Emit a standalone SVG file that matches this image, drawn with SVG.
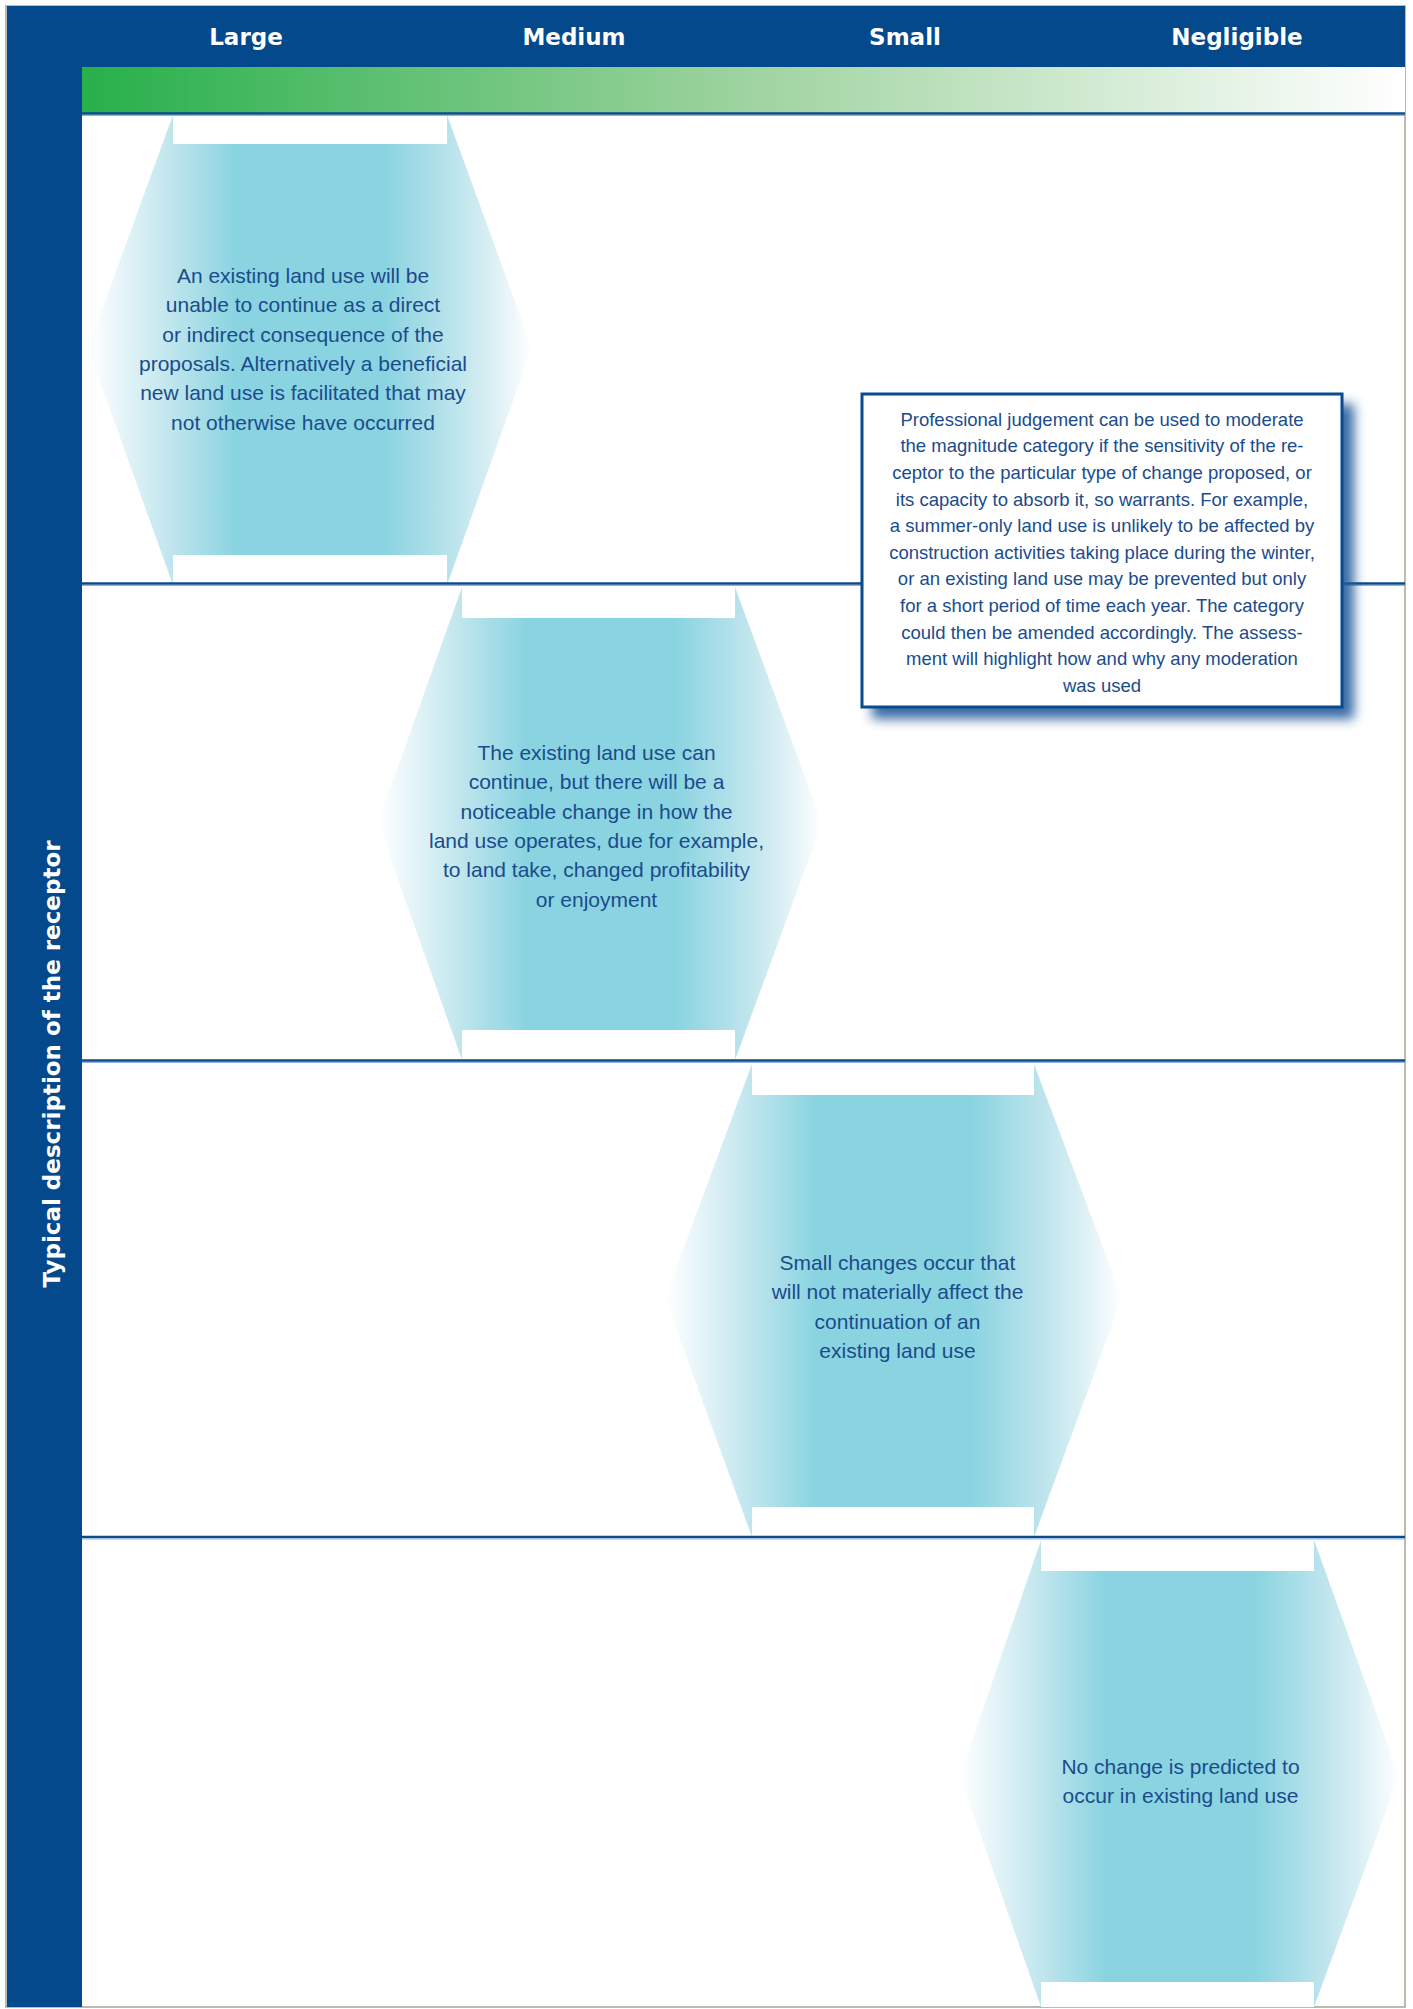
<svg xmlns="http://www.w3.org/2000/svg" width="1413" height="2009" viewBox="0 0 1413 2009">
  <defs>
    <linearGradient id="greenBar" x1="0" y1="0" x2="1" y2="0">
      <stop offset="0" stop-color="#27b04b"/>
      <stop offset="0.5" stop-color="#9ed39f"/>
      <stop offset="1" stop-color="#ffffff"/>
    </linearGradient>
    <linearGradient id="hexFill" x1="0" y1="0" x2="1" y2="0">
      <stop offset="0" stop-color="#ffffff"/>
      <stop offset="0.08" stop-color="#e4f4f8"/>
      <stop offset="0.19" stop-color="#bfe5ed"/>
      <stop offset="0.33" stop-color="#8ad4e1"/>
      <stop offset="0.67" stop-color="#8ad4e1"/>
      <stop offset="0.8" stop-color="#b4e1ea"/>
      <stop offset="0.9" stop-color="#d6eef3"/>
      <stop offset="1" stop-color="#ffffff"/>
    </linearGradient>
    <filter id="shadow" x="-10%" y="-10%" width="130%" height="140%">
      <feGaussianBlur stdDeviation="6"/>
    </filter>
  </defs>
  <style>
    .hex { fill: url(#hexFill); }
    .notch { fill: #ffffff; }
    .htxt { font-family: "Liberation Sans", Arial, sans-serif; font-size: 21px; fill: #1a4c8c; text-anchor: middle; }
    .ctxt { font-family: "Liberation Sans", Arial, sans-serif; font-size: 18.5px; fill: #1a4c8c; text-anchor: middle; }
    .head { font-family: "DejaVu Sans", Verdana, sans-serif; font-weight: bold; font-size: 23px; fill: #ffffff; text-anchor: middle; }
    .rowline { stroke: #0b4a8c; stroke-width: 2.5; fill: none; }
    .rowlight { stroke: #8fb2d6; stroke-width: 1; fill: none; }
  </style>

  <rect x="0" y="0" width="1413" height="2009" fill="#ffffff"/>

  <g id="frame">
    <rect x="6" y="6" width="1399" height="2001" fill="#ffffff" stroke="#a7a294" stroke-width="1.5"/>
    <rect x="7" y="6" width="1398" height="61" fill="#03498c"/>
    <rect x="7" y="6" width="75" height="2001" fill="#03498c"/>
    <rect x="82" y="67" width="1323" height="46" fill="url(#greenBar)"/>
  </g>

  <g id="header">
    <text class="head" x="246" y="45">Large</text>
    <text class="head" x="574" y="45">Medium</text>
    <text class="head" x="905" y="45">Small</text>
    <text class="head" x="1237" y="45">Negligible</text>
    <text class="head" x="60" y="1064" transform="rotate(-90 60 1064)">Typical description of the receptor</text>
  </g>

  <g id="hex-large">
    <polygon class="hex" points="173,115 447,115 532,348 447,585 173,585 88,348"/>
    <rect class="notch" x="173" y="115" width="274" height="29"/>
    <rect class="notch" x="173" y="555" width="274" height="30"/>
    <text class="htxt" x="303" y="283">An existing land use will be</text>
    <text class="htxt" x="303" y="312.3">unable to continue as a direct</text>
    <text class="htxt" x="303" y="341.6">or indirect consequence of the</text>
    <text class="htxt" x="303" y="370.9">proposals. Alternatively a beneficial</text>
    <text class="htxt" x="303" y="400.2">new land use is facilitated that may</text>
    <text class="htxt" x="303" y="429.5">not otherwise have occurred</text>
  </g>

  <g id="hex-medium">
    <polygon class="hex" points="462,587 735,587 822,823 735,1060 462,1060 378,823"/>
    <rect class="notch" x="462" y="587" width="273" height="31"/>
    <rect class="notch" x="462" y="1030" width="273" height="30"/>
    <text class="htxt" x="596.5" y="760">The existing land use can</text>
    <text class="htxt" x="596.5" y="789.3">continue, but there will be a</text>
    <text class="htxt" x="596.5" y="818.6">noticeable change in how the</text>
    <text class="htxt" x="596.5" y="847.9">land use operates, due for example,</text>
    <text class="htxt" x="596.5" y="877.2">to land take, changed profitability</text>
    <text class="htxt" x="596.5" y="906.5">or enjoyment</text>
  </g>

  <g id="hex-small">
    <polygon class="hex" points="752,1064 1034,1064 1122,1298 1034,1537 752,1537 665,1298"/>
    <rect class="notch" x="752" y="1064" width="282" height="31"/>
    <rect class="notch" x="752" y="1507" width="282" height="30"/>
    <text class="htxt" x="897.5" y="1270">Small changes occur that</text>
    <text class="htxt" x="897.5" y="1299.3">will not materially affect the</text>
    <text class="htxt" x="897.5" y="1328.6">continuation of an</text>
    <text class="htxt" x="897.5" y="1357.9">existing land use</text>
  </g>

  <g id="hex-negligible">
    <polygon class="hex" points="1041,1540 1314,1540 1399,1776 1314,2007 1041,2007 960,1776"/>
    <rect class="notch" x="1041" y="1540" width="273" height="31"/>
    <rect class="notch" x="1041" y="1982" width="273" height="25"/>
    <text class="htxt" x="1180.5" y="1774">No change is predicted to</text>
    <text class="htxt" x="1180.5" y="1803">occur in existing land use</text>
  </g>

  <g id="connectors">
    <line class="rowline" x1="82" y1="113.5" x2="1405" y2="113.5"/>
    <line class="rowlight" x1="82" y1="115.5" x2="1405" y2="115.5"/>
    <line class="rowline" x1="82" y1="583.5" x2="1405" y2="583.5"/>
    <line class="rowlight" x1="82" y1="585.5" x2="1405" y2="585.5"/>
    <line class="rowline" x1="82" y1="1060.5" x2="1405" y2="1060.5"/>
    <line class="rowlight" x1="82" y1="1062.5" x2="1405" y2="1062.5"/>
    <line class="rowline" x1="82" y1="1537" x2="1405" y2="1537"/>
    <line class="rowlight" x1="82" y1="1539" x2="1405" y2="1539"/>
  </g>

  <g id="callout">
    <rect x="872" y="404" width="482" height="315" fill="#245a9c" opacity="0.9" filter="url(#shadow)"/>
    <rect x="862" y="394" width="480" height="313" fill="#ffffff" stroke="#0b4a8c" stroke-width="3"/>
    <text class="ctxt" x="1102" y="425.7">Professional judgement can be used to moderate</text>
    <text class="ctxt" x="1102" y="452.3">the magnitude category if the sensitivity of the re-</text>
    <text class="ctxt" x="1102" y="478.9">ceptor to the particular type of change proposed, or</text>
    <text class="ctxt" x="1102" y="505.5">its capacity to absorb it, so warrants. For example,</text>
    <text class="ctxt" x="1102" y="532.1">a summer-only land use is unlikely to be affected by</text>
    <text class="ctxt" x="1102" y="558.7">construction activities taking place during the winter,</text>
    <text class="ctxt" x="1102" y="585.3">or an existing land use may be prevented but only</text>
    <text class="ctxt" x="1102" y="611.9">for a short period of time each year. The category</text>
    <text class="ctxt" x="1102" y="638.5">could then be amended accordingly. The assess-</text>
    <text class="ctxt" x="1102" y="665.1">ment will highlight how and why any moderation</text>
    <text class="ctxt" x="1102" y="691.7">was used</text>
  </g>
</svg>
